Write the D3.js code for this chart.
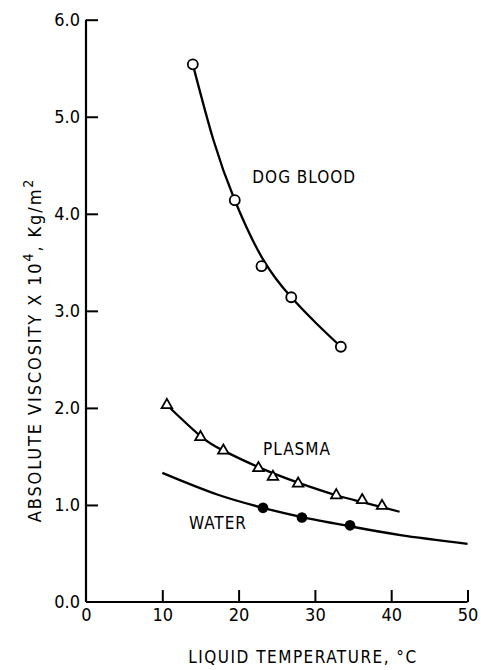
<!DOCTYPE html>
<html>
<head>
<meta charset="utf-8">
<script src="https://cdn.jsdelivr.net/npm/d3@7"></script>
<style>
  html, body { margin: 0; padding: 0; background: #fff; }
  svg text { font-family: "DejaVu Sans Condensed", "DejaVu Sans", sans-serif; font-stretch: condensed; fill: #000; }
</style>
</head>
<body>
<svg id="chart" width="481" height="670"></svg>
<script>
// Measured viscosities (x 10^4 kg/m·s) vs. liquid temperature (°C)
const dogBloodTemp = [14.0, 19.5, 23.0, 26.9, 33.4];
const dogBloodVisc = [5.54, 4.14, 3.46, 3.14, 2.63];

const plasmaTemp = [10.6, 15.0, 18.0, 22.6, 24.5, 27.8, 32.8, 36.2, 38.8];
const plasmaVisc = [2.03, 1.70, 1.56, 1.38, 1.29, 1.22, 1.10, 1.05, 0.99];

const waterTemp = [23.2, 28.3, 34.6];
const waterVisc = [0.97, 0.87, 0.79];

// Smooth fitted curves drawn through the data
const dogFitTemp = [14.0, 16.7, 19.5, 23.2, 26.9, 30.2, 33.4];
const dogFitVisc = [5.54, 4.76, 4.14, 3.53, 3.14, 2.87, 2.63];

const plasmaFitTemp = [10.6, 15.0, 18.0, 22.6, 27.8, 32.8, 36.2, 41.1];
const plasmaFitVisc = [2.03, 1.71, 1.56, 1.39, 1.23, 1.10, 1.03, 0.93];

const waterFitTemp = [10.0, 17.1, 23.2, 28.3, 34.6, 41.2, 50.0];
const waterFitVisc = [1.33, 1.11, 0.97, 0.875, 0.78, 0.69, 0.60];

const xTicks = [0, 10, 20, 30, 40, 50];
const yTicks = [0, 1, 2, 3, 4, 5, 6];

const svg = d3.select("#chart");
const x = d3.scaleLinear().domain([0, 50]).range([86, 467.5]);
const y = d3.scaleLinear().domain([0, 6]).range([602, 19.7]);

// Axes
const xAxis = d3.axisBottom(x).tickValues(xTicks).tickSize(-12).tickPadding(6)
  .tickFormat(d => d);
const yAxis = d3.axisLeft(y).tickValues(yTicks).tickSize(-12).tickPadding(5)
  .tickFormat(d3.format(".1f"));

const gx = svg.append("g").attr("transform", `translate(0,${y(0)})`).call(xAxis);
const gy = svg.append("g").attr("transform", `translate(${x(0)},0)`).call(yAxis);

[gx, gy].forEach(g => {
  g.select(".domain").attr("stroke", "#000").attr("stroke-width", 2.2);
  g.selectAll(".tick line").attr("stroke", "#000").attr("stroke-width", 2);
  g.selectAll(".tick text").attr("font-size", 18).attr("font-family", null);
});
gx.select(".domain").attr("d", `M${x(0)},0H${x(50)}`);
gy.select(".domain").attr("d", `M0,${y(6)}V${y(0)}`);
gx.selectAll(".tick").filter(d => d === 0).select("line").remove();
gy.selectAll(".tick").filter(d => d === 0).select("line").remove();
gy.selectAll(".tick text").attr("dx", "-1");

// Axis titles
svg.append("text")
  .attr("x", 303).attr("y", 663)
  .attr("text-anchor", "middle")
  .attr("font-size", 17).attr("letter-spacing", 1.5)
  .text("LIQUID TEMPERATURE, °C");

const yTitle = svg.append("text")
  .attr("transform", "translate(41,350) rotate(-90)")
  .attr("text-anchor", "middle")
  .attr("font-size", 18).attr("letter-spacing", 1.9);
yTitle.append("tspan").text("ABSOLUTE VISCOSITY X 10");
yTitle.append("tspan").attr("dy", -8).attr("font-size", 14).text("4");
yTitle.append("tspan").attr("dy", 8).text(",  Kg/m");
yTitle.append("tspan").attr("dy", -8).attr("font-size", 14).text("2");

// Curves
const line = d3.line().x(d => x(d[0])).y(d => y(d[1])).curve(d3.curveNatural);
const curves = [
  d3.zip(dogFitTemp, dogFitVisc),
  d3.zip(plasmaFitTemp, plasmaFitVisc),
  d3.zip(waterFitTemp, waterFitVisc)
];
svg.append("g").selectAll("path").data(curves).join("path")
  .attr("d", line)
  .attr("fill", "none").attr("stroke", "#000").attr("stroke-width", 2.3);

// Markers
svg.append("g").selectAll("circle").data(d3.zip(dogBloodTemp, dogBloodVisc)).join("circle")
  .attr("cx", d => x(d[0])).attr("cy", d => y(d[1])).attr("r", 5)
  .attr("fill", "#fff").attr("stroke", "#000").attr("stroke-width", 1.8);

const tri = d3.symbol().type(d3.symbolTriangle).size(48);
svg.append("g").selectAll("path").data(d3.zip(plasmaTemp, plasmaVisc)).join("path")
  .attr("transform", d => `translate(${x(d[0])},${y(d[1])})`)
  .attr("d", tri)
  .attr("fill", "#fff").attr("stroke", "#000").attr("stroke-width", 1.8);

svg.append("g").selectAll("circle").data(d3.zip(waterTemp, waterVisc)).join("circle")
  .attr("cx", d => x(d[0])).attr("cy", d => y(d[1])).attr("r", 5.3)
  .attr("fill", "#000");

// Series labels
const labels = [
  { text: "DOG BLOOD", t: 21.8, v: 4.32 },
  { text: "PLASMA", t: 23.2, v: 1.515 },
  { text: "WATER", t: 13.5, v: 0.753 }
];
svg.append("g").selectAll("text").data(labels).join("text")
  .attr("x", d => x(d.t)).attr("y", d => y(d.v))
  .attr("font-size", 17).attr("letter-spacing", 1)
  .text(d => d.text);
</script>
</body>
</html>
